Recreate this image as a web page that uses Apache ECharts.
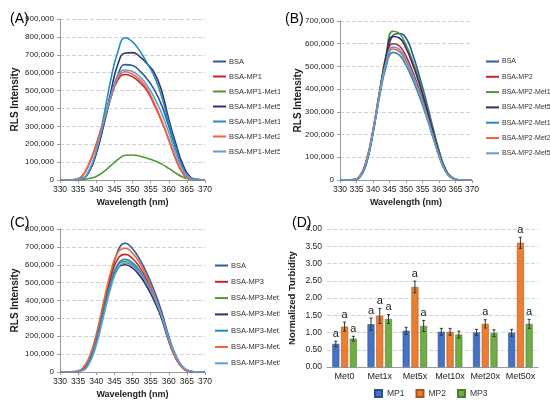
<!DOCTYPE html>
<html>
<head>
<meta charset="utf-8">
<script src="https://cdn.jsdelivr.net/npm/echarts@6/dist/echarts.min.js"></script>
<style>
  html, body { margin: 0; padding: 0; background: #fff; }
  .panel { position: absolute; width: 275px; height: 204px; }
</style>
</head>
<body>
<div class="panel" id="pa" style="left:0;top:0;width:280px;height:212px"></div>
<div class="panel" id="pb" style="left:275px;top:0;height:212px"></div>
<div class="panel" id="pc" style="left:0;top:204px;width:280px"></div>
<div class="panel" id="pd" style="left:275px;top:204px"></div>
<script>
// wavelengths (nm), 2 nm steps
var wl = [330,332,334,336,338,340,342,344,346,348,350,352,354,356,358,360,362,364,366,368,370];

// (A) RLS intensity x1000
var aBSA    = [0,0,1,8,50,150,300,460,590,645,640,610,565,505,420,300,170,70,15,2,0];
var aMP     = [0,0,3,20,90,200,330,460,560,590,577,545,500,420,330,225,115,35,5,1,0];
var aMet1   = [0,0,0,2,8,20,45,80,115,138,140,133,122,108,90,65,38,15,4,0,0];
var aMet5   = [0,0,1,6,45,150,310,490,650,710,712,690,650,600,500,340,200,80,15,2,0];
var aMet10  = [0,0,1,6,50,165,350,560,720,795,772,722,655,580,470,320,180,65,12,2,0];
var aMet20  = [0,0,3,20,88,198,330,462,570,605,592,560,510,430,335,225,112,34,5,1,0];
var aMet50  = [0,0,1,8,55,165,320,470,585,615,607,578,530,460,375,265,145,52,10,1,0];

// (B)
var bBSA    = [0,0,1,12,72,205,375,535,635,645,625,555,460,355,240,130,48,11,1,0,0];
var bMP     = [0,0,2,18,88,222,390,530,600,590,545,478,398,308,208,112,40,9,1,0,0];
var bMet1   = [0,0,1,15,80,215,390,555,655,645,595,525,440,340,230,125,45,10,1,0,0];
var bMet5   = [0,0,1,14,78,212,385,545,632,625,580,510,425,328,222,120,43,9,1,0,0];
var bMet10  = [0,0,1,14,78,208,368,500,562,550,505,443,370,287,195,105,37,8,1,0,0];
var bMet20  = [0,0,2,17,86,218,382,515,577,565,522,458,382,296,200,108,38,8,1,0,0];
var bMet50  = [0,0,1,14,80,212,378,518,585,575,530,465,388,300,203,110,39,8,1,0,0];

// (C)
var cBSA    = [0,0,1,8,55,170,340,530,680,720,690,630,550,455,340,200,90,25,4,0,0];
var cMP     = [0,0,2,15,75,200,370,530,635,658,635,585,512,425,320,185,80,22,3,0,0];
var cMet1   = [0,0,1,12,68,185,345,500,598,618,600,555,490,410,310,180,78,21,3,0,0];
var cMet5   = [0,0,1,10,62,178,335,485,580,600,582,538,475,398,300,172,74,20,3,0,0];
var cMet10  = [0,0,1,10,60,175,338,495,605,630,612,565,498,415,312,180,80,22,3,0,0];
var cMet20  = [0,0,2,16,80,210,390,560,670,692,665,610,530,435,320,180,75,18,2,0,0];
var cMet50  = [0,0,0,6,45,150,310,470,580,608,595,555,495,418,318,190,88,26,4,0,0];

// (D) normalized turbidity
var dCats  = ['Met0','Met1x','Met5x','Met10x','Met20x','Met50x'];
var dMP1   = [0.67,1.24,1.05,1.02,1.00,0.99];
var dMP2   = [1.17,1.48,2.32,1.02,1.25,3.60];
var dMP3   = [0.82,1.39,1.19,0.94,0.98,1.25];
var eMP1   = [0.08,0.18,0.10,0.10,0.09,0.10];
var eMP2   = [0.13,0.22,0.17,0.10,0.12,0.16];
var eMP3   = [0.07,0.13,0.16,0.10,0.10,0.13];
var sMP1   = ['a','a','','','',''];
var sMP2   = ['a','a','a','','a','a'];
var sMP3   = ['a','a','a','','','a'];

var lineColors = ['#2c5a9c','#c3272d','#4f9a30','#3a2b6c','#1f90b5','#f0633c','#5e9fd8'];
var font = "'Liberation Sans',Arial,sans-serif";

function fmt(v){ return String(v).replace(/\B(?=(\d{3})+(?!\d))/g, ','); }
function pairs(arr){ return wl.map(function(w,i){ return [w, arr[i]*1000]; }); }

function spectrum(el, label, names, sets, ymax, g, legendPos, nameGapY, nameGapX){
    var chart = echarts.init(document.getElementById(el));
    var series = names.map(function(n,i){
        return {
            name:n,
            type:'line',
            smooth:true,
            showSymbol:false,
            color:lineColors[i],
            lineStyle:{width:1.6},
            data:pairs(sets[i])
        };
    });
    chart.setOption({
        animation:false,
        title:{text:label,left:5,top:7,textStyle:{fontFamily:font,fontSize:14,fontWeight:'normal',color:'#000'}},
        legend:{
            orient:'vertical',
            left:legendPos[0], top:legendPos[1],
            icon:'rect', itemWidth:13, itemHeight:2,
            itemGap:legendPos[2],
            textStyle:{fontFamily:font,fontSize:legendPos[3],color:'#333',lineHeight:11,padding:[0,0,0,-2]},
            data:names
        },
        grid:{left:g[0],right:g[1],top:g[2],bottom:g[3]},
        xAxis:{
            type:'value', min:330, max:370, interval:5,
            name:'Wavelength (nm)', nameLocation:'middle', nameGap:nameGapX,
            nameMoveOverlap:false,
            nameTextStyle:{fontFamily:font,fontSize:9,fontWeight:'bold',color:'#222'},
            axisLine:{lineStyle:{color:'#999'}},
            axisTick:{show:true,length:3,lineStyle:{color:'#999'}},
            axisLabel:{fontFamily:font,fontSize:8.5,color:'#222',margin:5,hideOverlap:false},
            splitLine:{show:false}
        },
        yAxis:{
            type:'value', min:0, max:ymax, interval:100000,
            name:'RLS Intensity', nameLocation:'middle', nameGap:nameGapY,
            nameMoveOverlap:false,
            nameTextStyle:{fontFamily:font,fontSize:10,fontWeight:'bold',color:'#222'},
            axisLine:{show:true,lineStyle:{color:'#999'}},
            axisTick:{show:true,length:3,lineStyle:{color:'#999'}},
            axisLabel:{fontFamily:font,fontSize:8,color:'#222',margin:6,formatter:fmt},
            splitLine:{lineStyle:{type:'dashed',color:'#d4d4d4'}}
        },
        series:series
    });
    return chart;
}

var chartA = spectrum('pa','(A)',
    ['BSA','BSA-MP1','BSA-MP1-Met1x','BSA-MP1-Met5x','BSA-MP1-Met10x','BSA-MP1-Met20x','BSA-MP1-Met50x'],
    [aBSA,aMP,aMet1,aMet5,aMet10,aMet20,aMet50], 900000, [60,75,19,31], [208,51,4,7.5], 40, 18);
var chartB = spectrum('pb','(B)',
    ['BSA','BSA-MP2','BSA-MP2-Met1x','BSA-MP2-Met5x','BSA-MP2-Met10x','BSA-MP2-Met20x','BSA-MP2-Met50x'],
    [bBSA,bMP,bMet1,bMet5,bMet10,bMet20,bMet50], 700000, [65,78,21,29], [206,51,4.3,7], 37, 18);
var chartC = spectrum('pc','(C)',
    ['BSA','BSA-MP3','BSA-MP3-Met1x','BSA-MP3-Met5x','BSA-MP3-Met10x','BSA-MP3-Met20x','BSA-MP3-Met50x'],
    [cBSA,cMP,cMet1,cMet5,cMet10,cMet20,cMet50], 800000, [60,75,25,36], [210,51,5.3,7.5], 40, 18);

// (D) bars with error bars
var chartD = echarts.init(document.getElementById('pd'));
var offsets = [-8.75, 0, 8.75];
function errSeries(vals, errs, sig, k){
    return {
        type:'custom',
        silent:true,
        z:5,
        data:vals.map(function(v,i){ return [i, v, errs[i], sig[i]]; }),
        renderItem:function(params, api){
            var top = api.coord([api.value(0), api.value(1)+api.value(2)]);
            var bot = api.coord([api.value(0), api.value(1)-api.value(2)]);
            var x = top[0] + offsets[k];
            var children = [
                {type:'line',shape:{x1:x,y1:top[1],x2:x,y2:bot[1]},style:{stroke:'#333',lineWidth:1}},
                {type:'line',shape:{x1:x-1.5,y1:top[1],x2:x+1.5,y2:top[1]},style:{stroke:'#333',lineWidth:1}},
                {type:'line',shape:{x1:x-1.5,y1:bot[1],x2:x+1.5,y2:bot[1]},style:{stroke:'#333',lineWidth:1}}
            ];
            if (api.value(3)) {
                children.push({type:'text',style:{text:'a',x:x,y:top[1]-2,textAlign:'center',textVerticalAlign:'bottom',
                    font:'11px '+font,fill:'#222'}});
            }
            return {type:'group',children:children};
        }
    };
}
function barSeries(name, vals, color, border){
    return {name:name,type:'bar',barWidth:7,barGap:'25%',data:vals,
        itemStyle:{color:color,borderColor:border,borderWidth:0.6}};
}
chartD.setOption({
    animation:false,
    title:{text:'(D)',left:12,top:7,textStyle:{fontFamily:font,fontSize:14,fontWeight:'normal',color:'#000'}},
    legend:{
        bottom:5, left:94,
        icon:'rect', itemWidth:7, itemHeight:7, itemGap:11,
        textStyle:{fontFamily:font,fontSize:8.5,color:'#333'},
        data:['MP1','MP2','MP3']
    },
    grid:{left:52,right:12,top:25,bottom:41},
    xAxis:{
        type:'category', data:dCats,
        axisLine:{lineStyle:{color:'#999'}},
        axisTick:{show:false},
        axisLabel:{fontFamily:font,fontSize:9,color:'#222',margin:5,interval:0}
    },
    yAxis:{
        type:'value', min:0, max:4, interval:0.5,
        name:'Normalized Turbidity', nameLocation:'middle', nameGap:30,
        nameMoveOverlap:false,
        nameTextStyle:{fontFamily:font,fontSize:9.5,fontWeight:'bold',color:'#222'},
        axisLine:{show:false},
        axisTick:{show:false},
        axisLabel:{fontFamily:font,fontSize:8.5,color:'#222',margin:5,formatter:function(v){return v.toFixed(2);}},
        splitLine:{lineStyle:{type:'dashed',color:'#d4d4d4'}}
    },
    series:[
        barSeries('MP1', dMP1, '#4472c4', '#2f4f8a'),
        barSeries('MP2', dMP2, '#ed7d31', '#a9561d'),
        barSeries('MP3', dMP3, '#70ad47', '#4c7a2e'),
        errSeries(dMP1, eMP1, sMP1, 0),
        errSeries(dMP2, eMP2, sMP2, 1),
        errSeries(dMP3, eMP3, sMP3, 2)
    ]
});
</script>
</body>
</html>
